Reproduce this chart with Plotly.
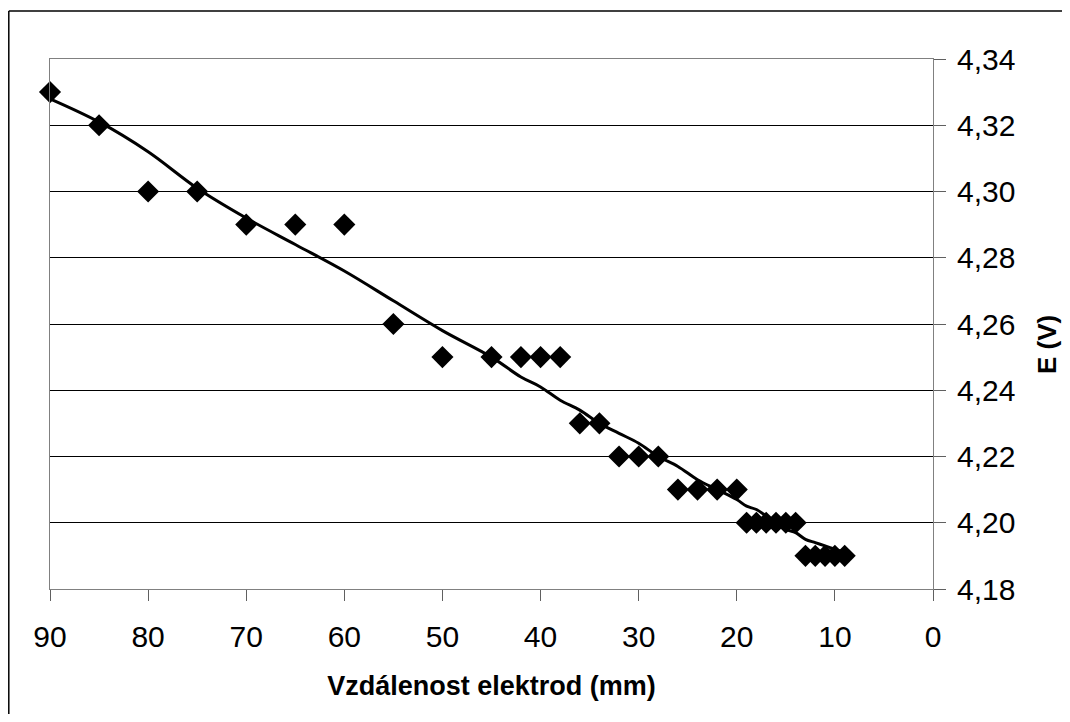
import plotly.graph_objects as go

# Measured data
distance_mm = [90, 85, 80, 75, 70, 65, 60, 55, 50, 45, 42, 40, 38, 36, 34, 32, 30, 28,
               26, 24, 22, 20, 19, 18, 17, 16, 15, 14, 13, 12, 11, 10, 9]
voltage_v = [4.33, 4.32, 4.30, 4.30, 4.29, 4.29, 4.29, 4.26, 4.25, 4.25, 4.25, 4.25, 4.25,
             4.23, 4.23, 4.22, 4.22, 4.22, 4.21, 4.21, 4.21, 4.21, 4.20, 4.20, 4.20, 4.20,
             4.20, 4.20, 4.19, 4.19, 4.19, 4.19, 4.19]
# Fitted curve
fit_v = [4.328, 4.321, 4.312, 4.301, 4.292, 4.284, 4.276, 4.267, 4.258, 4.250, 4.244,
         4.241, 4.237, 4.234, 4.230, 4.227, 4.224, 4.220, 4.217, 4.213, 4.210, 4.207,
         4.205, 4.204, 4.202, 4.200, 4.198, 4.197, 4.195, 4.194, 4.193, 4.192, 4.191]

x_ticks = [90, 80, 70, 60, 50, 40, 30, 20, 10, 0]
y_ticks = [4.18, 4.20, 4.22, 4.24, 4.26, 4.28, 4.30, 4.32, 4.34]

FONT = "Arial, Liberation Sans, sans-serif"

fig = go.Figure()
fig.add_trace(go.Scatter(
    x=distance_mm, y=fit_v, mode="lines", line=dict(color="black", width=3, shape="spline"),
    showlegend=False))
fig.add_trace(go.Scatter(
    x=distance_mm, y=voltage_v, mode="markers",
    marker=dict(symbol="diamond", size=17, color="black", line=dict(width=0)),
    showlegend=False, cliponaxis=False))

# page is drawn with an 8px body margin; figure coords = page coords - 8
OFF = 8
W, H = 1070 - 2 * OFF, 722 - 2 * OFF
L, R, T, B = 50 - OFF, 933 - OFF, 59 - OFF, 589 - OFF
pw, ph = R - L, B - T

def px(xp):
    return (xp - OFF - L) / pw

def py(yp):
    return (B - (yp - OFF)) / ph

frame = dict(color="black", width=1.5)

fig.update_layout(
    width=W, height=H,
    margin=dict(l=L, r=W - R, t=T, b=H - B, pad=0),
    paper_bgcolor="white", plot_bgcolor="white",
    separators=", ",
    font=dict(family=FONT, size=30, color="black"),
    xaxis=dict(
        range=[90, 0], tickvals=x_ticks, ticktext=[str(v) for v in x_ticks],
        showgrid=False, zeroline=False,
        showline=True, linecolor="#808080", linewidth=1, mirror=True,
        ticks="outside", ticklen=11, tickcolor="#606060", tickwidth=1,
        ticklabelstandoff=10,
        tickfont=dict(size=30, family=FONT),
        title=dict(text="<b>Vzdálenost elektrod (mm)</b>", font=dict(size=27, family=FONT),
                   standoff=24),
    ),
    yaxis=dict(
        side="right", range=[4.18, 4.34], tickvals=y_ticks,
        ticktext=[f"{v:.2f}".replace(".", ",") for v in y_ticks],
        showgrid=True, gridcolor="black", gridwidth=1, zeroline=False,
        showline=True, linecolor="#808080", linewidth=1, mirror=True,
        ticks="outside", ticklen=12, tickcolor="#606060", tickwidth=1,
        ticklabelstandoff=5,
        tickfont=dict(size=30, family=FONT),
    ),
    shapes=[
        dict(type="line", xref="paper", yref="paper",
             x0=px(8.8), x1=px(1075), y0=py(11), y1=py(11), line=frame, layer="below"),
        dict(type="line", xref="paper", yref="paper",
             x0=px(8.8), x1=px(8.8), y0=py(11), y1=py(730), line=frame, layer="below"),
    ],
    annotations=[dict(text="<b>E (V)</b>", xref="paper", yref="paper",
                      x=px(1047), y=py(345), textangle=-90, showarrow=False,
                      font=dict(size=26, family=FONT, color="black"),
                      xanchor="center", yanchor="middle")],
)

fig.write_html("out.html")
